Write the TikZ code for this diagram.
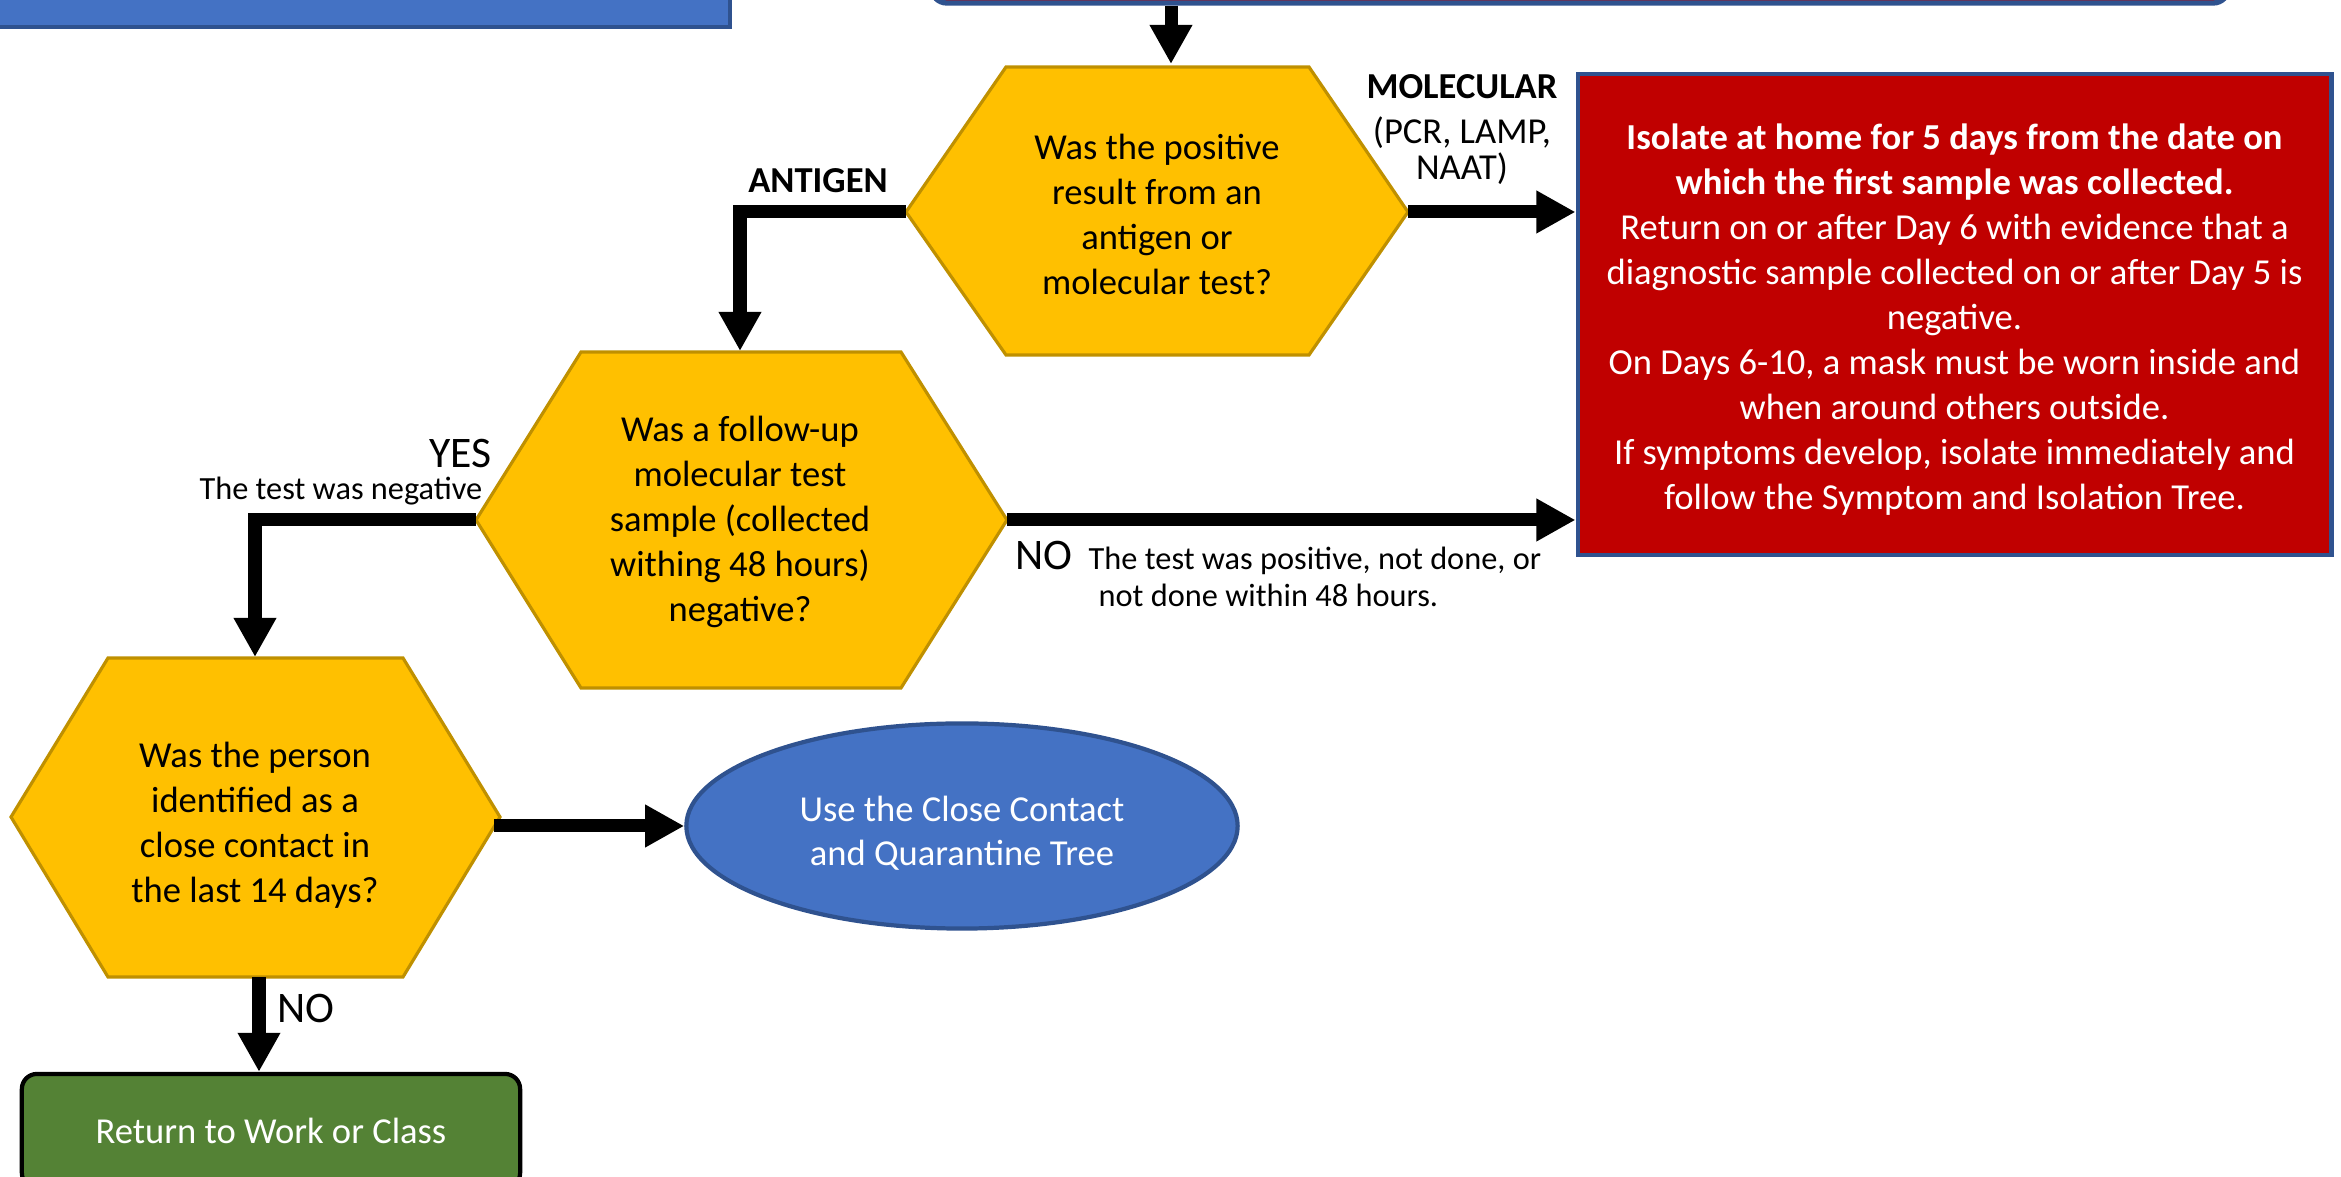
\documentclass[tikz,border=0pt]{standalone}
\usepackage{fontspec}
\setmainfont{Carlito}
\usetikzlibrary{arrows.meta,shapes.geometric}
\definecolor{gold}{HTML}{FFC000}
\definecolor{golddark}{HTML}{BF9000}
\definecolor{redbox}{HTML}{C00000}
\definecolor{blueedge}{HTML}{2F528F}
\definecolor{bluefill}{HTML}{4472C4}
\definecolor{greenfill}{HTML}{548235}
\begin{document}
\begin{tikzpicture}[x=0.01cm,y=-0.01cm,
  hexshape/.style={fill=gold,draw=golddark,line width=0.9pt,line join=miter},
  qtext/.style={align=center,inner sep=0pt,font=\fontsize{10.4}{12.8}\selectfont,text=black},
  flow/.style={line width=3.7pt,line join=miter,-{Triangle[length=0.39cm,width=0.40cm]}},
  lbl/.style={inner sep=0pt,font=\fontsize{10.4}{12.8}\selectfont},
  biglbl/.style={inner sep=0pt,font=\fontsize{12.4}{14}\selectfont},
  smalllbl/.style={inner sep=0pt,font=\fontsize{9.2}{11}\selectfont}]
\useasboundingbox (0,0) rectangle (2341,1177);

% top boxes (cut off)
\fill[bluefill,draw=blueedge,line width=1.2pt] (-20,-40) rectangle (730,27);
\node[draw=blueedge,fill=redbox,line width=1.5pt,rounded corners=0.15cm,
      minimum width=12.96cm,minimum height=0.6cm,inner sep=0pt] (topbox) at (1580,-27) {};

% hexagon 1
\coordinate (h1w) at (906,212);
\coordinate (h1e) at (1408,212);
\coordinate (h1n) at (1171,64);
\draw[hexshape] (h1w) -- (1006,67) -- (1309,67) -- (h1e) -- (1309,355) -- (1006,355) -- cycle;
\node[qtext] (h1) at (1157,214) {Was the positive\\result from an\\antigen or\\molecular test?};

% hexagon 2
\coordinate (h2w) at (476,520);
\coordinate (h2e) at (1007,520);
\coordinate (h2n) at (740,351);
\draw[hexshape] (h2w) -- (581,352) -- (901,352) -- (h2e) -- (901,688) -- (581,688) -- cycle;
\node[qtext] (h2) at (740,522) {Was a follow-up\\molecular test\\sample (collected\\withing 48 hours)\\negative?};

% hexagon 3
\coordinate (h3w) at (11,817);
\coordinate (h3e) at (500,817);
\coordinate (h3n) at (255,657);
\coordinate (h3s) at (259,977);
\draw[hexshape] (h3w) -- (108,658) -- (403,658) -- (h3e) -- (403,977) -- (108,977) -- cycle;
\node[qtext] (h3) at (255,825) {Was the person\\identified as a\\close contact in\\the last 14 days?};

% red result box
\node[draw=blueedge,fill=redbox,line width=1.3pt,minimum width=7.53cm,minimum height=4.81cm,
      inner sep=0pt] (iso) at (1954.5,314.5) {};
\node[align=center,inner sep=0pt,text=white,font=\fontsize{10.4}{12.8}\selectfont] (isotext) at (1954.5,320)
  {\textbf{Isolate at home for 5 days from the date on}\\
   \textbf{which the first sample was collected.}\\
   Return on or after Day 6 with evidence that a\\
   diagnostic sample collected on or after Day 5 is\\
   negative.\\
   On Days 6-10, a mask must be worn inside and\\
   when around others outside.\\
   If symptoms develop, isolate immediately and\\
   follow the Symptom and Isolation Tree.};

% ellipse
\node[ellipse,draw=blueedge,fill=bluefill,line width=1.2pt,minimum width=5.51cm,minimum height=2.05cm,
      inner sep=0pt] (ell) at (962,826) {};
\node[align=center,inner sep=0pt,text=white,font=\fontsize{10.4}{12.6}\selectfont] (elltext) at (962,833)
  {Use the Close Contact\\and Quarantine Tree};

% green box
\node[draw=black,fill=greenfill,line width=1.2pt,rounded corners=0.15cm,minimum width=4.98cm,
      minimum height=1.14cm,inner sep=0pt,text=white,font=\fontsize{10.4}{12.8}\selectfont] (ret) at (271,1131)
  {Return to Work or Class};

% connectors
\draw[flow] (topbox.south -| h1n) -- (h1n);
\draw[flow] (h1e) -- (iso.west |- h1e);
\draw[flow] (h1w) -| (h2n);
\draw[flow] (h2e) -- (iso.west |- h2e);
\draw[flow] (h2w) -| (h3n);
\draw[flow] ([xshift=-0.06cm]h3e |- ell.west) -- (ell.west);
\draw[flow] (h3s) -- (h3s |- ret.north);

% labels
\node[lbl,font=\fontsize{10.4}{12.8}\selectfont\bfseries] (lmol) at (1462,87) {MOLECULAR};
\node[lbl,align=center,font=\fontsize{10.4}{10.3}\selectfont] (lmol2) at (1462,151) {(PCR, LAMP,\\NAAT)};
\node[lbl,font=\fontsize{10.4}{12.8}\selectfont\bfseries] (lant) at (818,181) {ANTIGEN};
\node[biglbl,anchor=base east] (lyes) at (492,468) {YES};
\node[smalllbl,anchor=base east] (lyes2) at (483,500) {The test was negative};
\node[biglbl,anchor=base west] (lno) at (1015,570) {NO};
\node[smalllbl,anchor=base west] (lno2) at (1088,570) {The test was positive, not done, or};
\node[smalllbl,anchor=base west] (lno3) at (1098,607) {not done within 48 hours.};
\node[biglbl,anchor=base west] (lno4) at (277,1023) {NO};
\end{tikzpicture}
\end{document}
